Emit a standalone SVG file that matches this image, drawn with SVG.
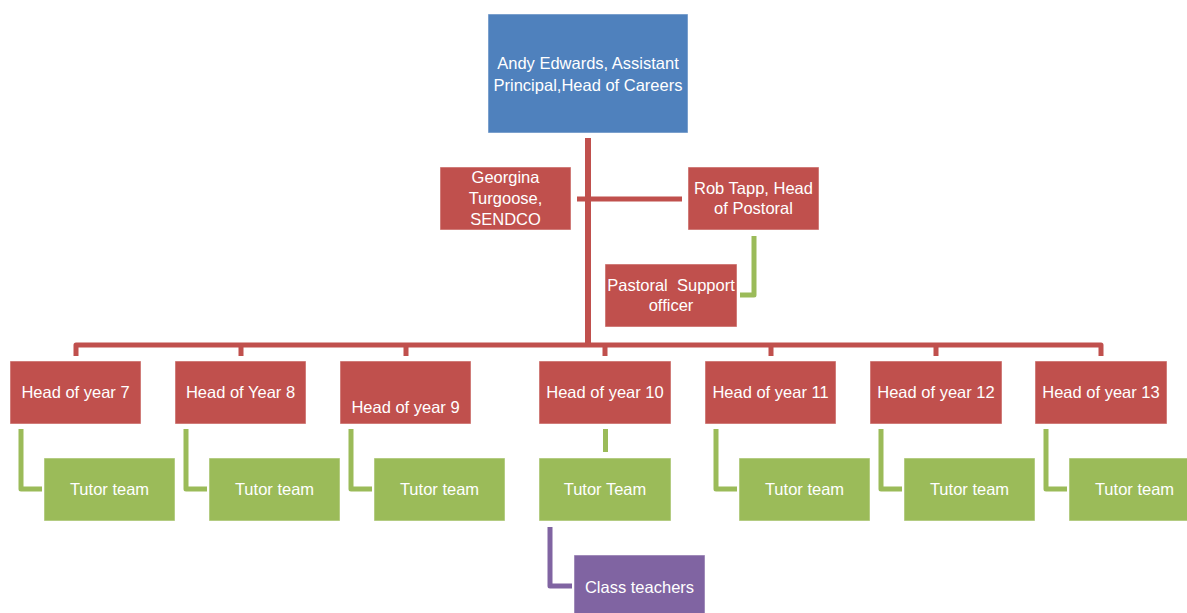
<svg xmlns="http://www.w3.org/2000/svg" width="1187" height="613" viewBox="0 0 1187 613">
<style>
text{font-family:"Liberation Sans",Arial,sans-serif;font-size:16.5px;fill:#fff;text-anchor:middle;white-space:pre}
.blue{fill:#4F81BD}.red{fill:#C0504D}.green{fill:#9BBB59}.purple{fill:#8064A2}
rect{stroke:#fff;stroke-opacity:.5;stroke-width:1}
.cr{fill:none;stroke:#C0504D;stroke-width:5;stroke-linejoin:round}
.cg{fill:none;stroke:#9BBB59;stroke-width:5;stroke-linejoin:round}
.cp{fill:none;stroke:#8064A2;stroke-width:5;stroke-linejoin:round}
</style>
<rect width="1187" height="613" fill="#fff" stroke="none"/>
<g id="connectors">
<path class="cr" d="M588,138V345" style="stroke-width:6"/>
<path class="cr" d="M577,199H682"/>
<path class="cr" d="M76,356V345H1101V356"/>
<path class="cr" d="M241,345V356M406,345V356M605,345V356M771,345V356M936,345V356"/>
<path class="cg" d="M754,236V295H740"/>
<path class="cg" d="M21,429V489H42"/>
<path class="cg" d="M186,429V489H207"/>
<path class="cg" d="M351,429V489H372"/>
<path class="cg" d="M605.5,429V452"/>
<path class="cg" d="M716,429V489H737"/>
<path class="cg" d="M881,429V489H902"/>
<path class="cg" d="M1046,429V489H1067"/>
<path class="cp" d="M550,527V586H572"/>
</g>
<g id="andy"><rect class="blue" x="488" y="14" width="200" height="119"/><text x="588" y="69">Andy Edwards, Assistant</text><text x="588" y="91">Principal,Head of Careers</text></g>
<g id="georgina"><rect class="red" x="440" y="167" width="131" height="63"/><text x="505.5" y="183">Georgina</text><text x="505.5" y="204">Turgoose,</text><text x="505.5" y="225">SENDCO</text></g>
<g id="rob"><rect class="red" x="688" y="167" width="131" height="63"/><text x="753.5" y="194">Rob Tapp, Head</text><text x="753.5" y="214">of Postoral</text></g>
<g id="pastoral"><rect class="red" x="605" y="264" width="132" height="63"/><text x="671" y="291">Pastoral  Support</text><text x="671" y="311">officer</text></g>
<g id="hoy7"><rect class="red" x="10" y="361" width="131" height="63"/><text x="75.5" y="398">Head of year 7</text></g>
<g id="hoy8"><rect class="red" x="175" y="361" width="131" height="63"/><text x="240.5" y="398">Head of Year 8</text></g>
<g id="hoy9"><rect class="red" x="340" y="361" width="131" height="63"/><text x="405.5" y="413">Head of year 9</text></g>
<g id="hoy10"><rect class="red" x="539" y="361" width="132" height="63"/><text x="605" y="398">Head of year 10</text></g>
<g id="hoy11"><rect class="red" x="705" y="361" width="131" height="63"/><text x="770.5" y="398">Head of year 11</text></g>
<g id="hoy12"><rect class="red" x="870" y="361" width="132" height="63"/><text x="936" y="398">Head of year 12</text></g>
<g id="hoy13"><rect class="red" x="1035" y="361" width="132" height="63"/><text x="1101" y="398">Head of year 13</text></g>
<g id="tt7"><rect class="green" x="44" y="458" width="131" height="63"/><text x="109.5" y="495">Tutor team</text></g>
<g id="tt8"><rect class="green" x="209" y="458" width="131" height="63"/><text x="274.5" y="495">Tutor team</text></g>
<g id="tt9"><rect class="green" x="374" y="458" width="131" height="63"/><text x="439.5" y="495">Tutor team</text></g>
<g id="tt10"><rect class="green" x="539" y="458" width="132" height="63"/><text x="605" y="495">Tutor Team</text></g>
<g id="tt11"><rect class="green" x="739" y="458" width="131" height="63"/><text x="804.5" y="495">Tutor team</text></g>
<g id="tt12"><rect class="green" x="904" y="458" width="131" height="63"/><text x="969.5" y="495">Tutor team</text></g>
<g id="tt13"><rect class="green" x="1069" y="458" width="131" height="63"/><text x="1134.5" y="495">Tutor team</text></g>
<g id="class"><rect class="purple" x="574" y="555" width="131" height="63"/><text x="639.5" y="593">Class teachers</text></g>
</svg>
